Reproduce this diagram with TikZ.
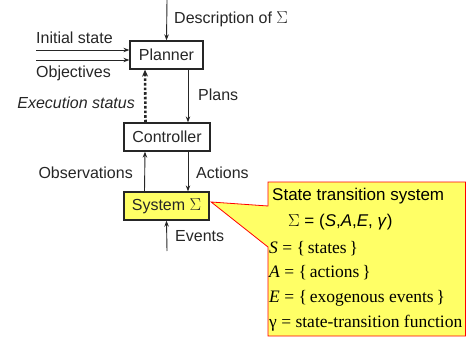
\documentclass[tikz,border=0pt]{standalone}
\usepackage{fontspec}
\setmainfont{Liberation Serif}
\setsansfont{Liberation Sans}
\usetikzlibrary{arrows.meta}
\definecolor{ink}{HTML}{262626}
\definecolor{yel}{HTML}{FFFF66}
\tikzset{
  blk/.style={draw=ink, line width=1.3pt, font=\sffamily\fontsize{16}{18}\selectfont, text=ink, inner sep=0pt},
  lbl/.style={font=\sffamily\fontsize{16}{18}\selectfont, text=ink, inner sep=0pt},
  arr/.style={draw=ink, line width=0.9pt, -{Stealth[length=6pt,width=4.5pt]}},
  ser/.style={font=\fontsize{17.5}{20}\selectfont, text=black, inner sep=0pt, anchor=west},
  cal/.style={font=\sffamily\fontsize{17}{20}\selectfont, text=black, inner sep=0pt, anchor=west}
}
\begin{document}
\begin{tikzpicture}[x=1pt,y=-1pt]
\useasboundingbox (0,0) rectangle (466,337);
% boxes
\node[blk, minimum width=73pt, minimum height=28pt] (planner) at (166.5,55) {Planner};
\node[blk, minimum width=86pt, minimum height=28pt] (controller) at (167,137) {Controller};
\node[blk, fill=yel, minimum width=85pt, minimum height=28pt] (system) at (166.5,206) {System $\Sigma$};
% free ends
\coordinate (dtop) at (167,0);
\coordinate (is) at (36,50);
\coordinate (ob) at (36,60);
\coordinate (ev) at (167,251);
% connectors
\draw[arr] (dtop) -- (planner.north);
\draw[arr] (is) -- (is -| planner.west);
\draw[arr] (ob) -- (ob -| planner.west);
\draw[arr] ([xshift=21.5pt]planner.south) -- ([xshift=21pt]controller.north);
\draw[draw=ink, line width=2.6pt, dotted, -{Stealth[length=7pt,width=6pt]}] ([xshift=-21.5pt]controller.north) -- ([xshift=-21.5pt]planner.south);
\draw[arr] ([xshift=-22pt]system.north) -- ([xshift=-22pt]controller.south);
\draw[arr] ([xshift=21pt]controller.south) -- ([xshift=21.5pt]system.north);
\draw[arr] (ev) -- (system.south);
% labels
\node[lbl, anchor=west] (ldesc) at (174,19) {Description of $\Sigma$};
\node[lbl, anchor=west] (linit) at (36,38) {Initial state};
\node[lbl, anchor=west] (lobj) at (36,73) {Objectives};
\node[lbl, anchor=east] (lexec) at (135,103) {\itshape Execution status};
\node[lbl, anchor=west] (lplans) at (198,95) {Plans};
\node[lbl, anchor=east] (lobs) at (133,173) {Observations};
\node[lbl, anchor=west] (lact) at (196,173) {Actions};
\node[lbl, anchor=west] (lev) at (175,236) {Events};
% callout
\draw[red, line width=0.8pt, fill=yel, line join=miter] (system.east) ++(1.5,-4) coordinate (tip)
  (tip) -- (268,206) -- (268,182) -- (465.5,182) -- (465.5,336) -- (268,336) -- (268,247) -- cycle;
\node[cal] (c1) at (272,196) {State transition system};
\node[cal] (c2) at (288,222) {$\Sigma$ = (\textit{S},\textit{A},\textit{E}, \textit{γ})};
\node[ser] (c3) at (269,249) {\textit{S} = \{\,states\,\}};
\node[ser] (c4) at (269,273) {\textit{A} = \{\,actions\,\}};
\node[ser] (c5) at (269,298) {\textit{E} = \{\,exogenous events\,\}};
\node[ser] (c6) at (269,323) {γ = state-transition function};
\end{tikzpicture}
\end{document}
